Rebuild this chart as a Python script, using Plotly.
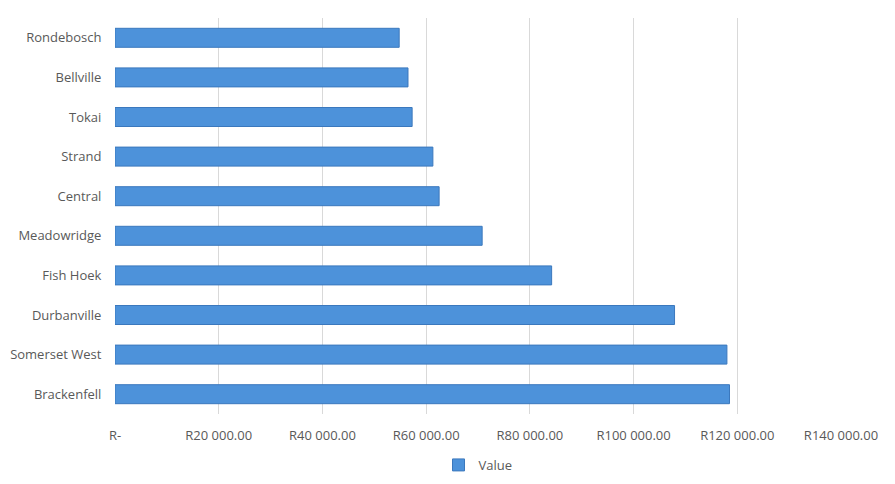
import plotly.graph_objects as go

suburbs = ["Rondebosch", "Bellville", "Tokai", "Strand", "Central",
           "Meadowridge", "Fish Hoek", "Durbanville", "Somerset West", "Brackenfell"]
values = [54800, 56500, 57300, 61300, 62500, 70800, 84200, 107900, 118000, 118500]

tick_vals = [0, 20000, 40000, 60000, 80000, 100000, 120000, 140000]
tick_text = ["R-", "R20 000.00", "R40 000.00", "R60 000.00", "R80 000.00",
             "R100 000.00", "R120 000.00", "R140 000.00"]

grey = "#595959"

fig = go.Figure()
fig.add_trace(go.Bar(
    x=values, y=suburbs, orientation="h", name="Value",
    marker=dict(color="#4d92da", line=dict(color="#3b78bd", width=1)),
    width=0.48, showlegend=True,
))

# page has an 8px body margin, so the figure is a bit smaller than the window
fig.update_layout(
    width=887, height=476,
    margin=dict(l=107, r=54, t=10, b=70),
    paper_bgcolor="white", plot_bgcolor="white",
    font=dict(family="Open Sans", size=13, color=grey),
    legend=dict(orientation="h", x=0.5, xanchor="center",
                yref="container", y=0.04, yanchor="middle",
                itemwidth=30, font=dict(size=13, color=grey)),
    xaxis=dict(range=[0, 140000], tickvals=tick_vals, ticktext=tick_text,
               showgrid=True, gridcolor="#d9d9d9", gridwidth=1,
               zeroline=False, showline=False, automargin=False,
               ticks="outside", ticklen=9, tickcolor="rgba(0,0,0,0)",
               tickfont=dict(size=13, color=grey)),
    yaxis=dict(autorange="reversed", showgrid=False, zeroline=False, showline=False,
               automargin=False,
               ticks="outside", ticklen=10, tickcolor="rgba(0,0,0,0)",
               tickfont=dict(size=13, color=grey)),
)

fig.write_html("out.html")
